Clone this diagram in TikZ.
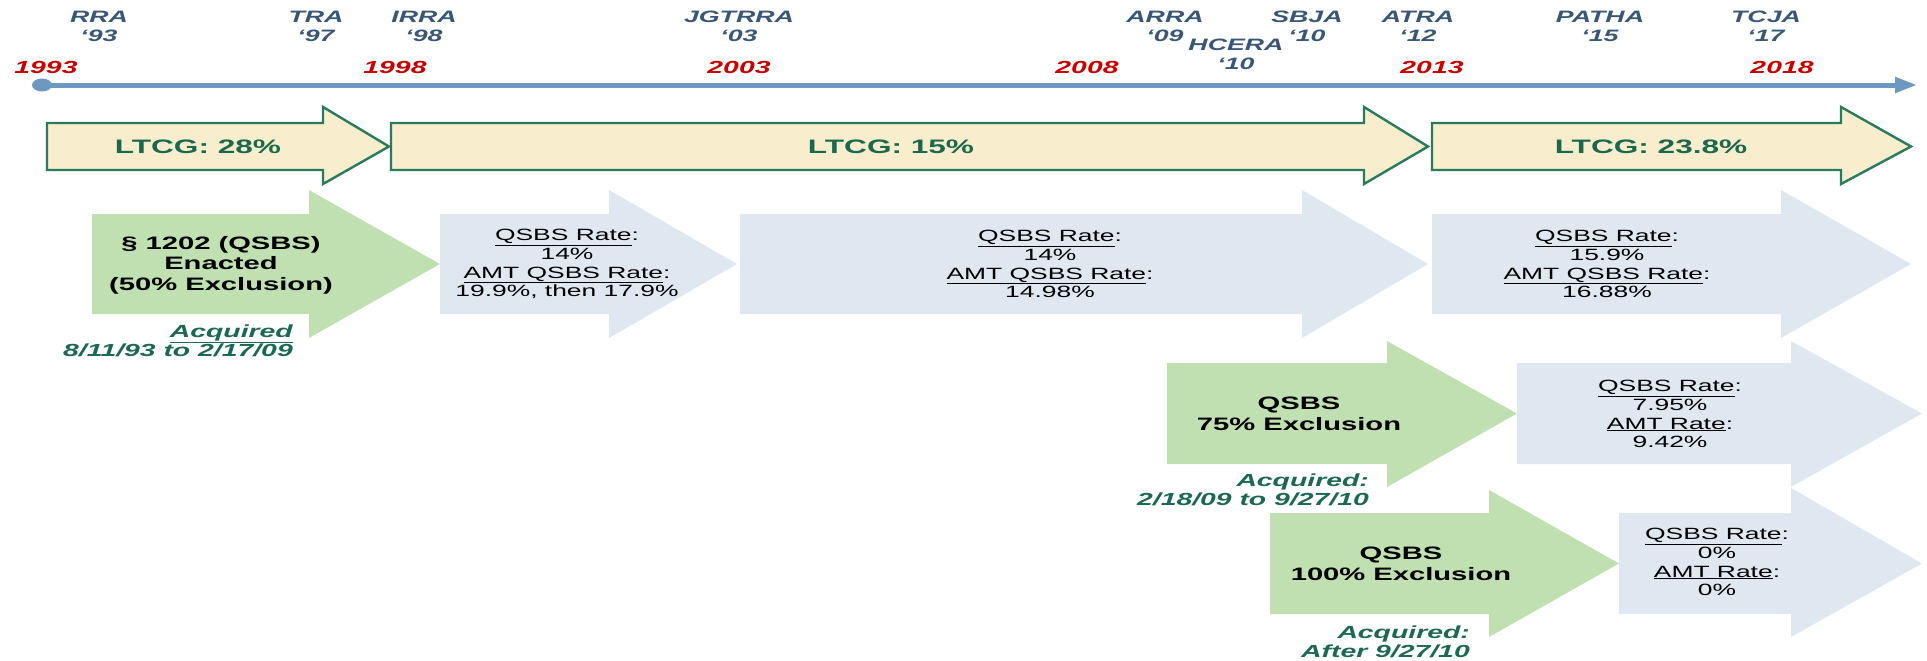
\documentclass[tikz,border=0pt]{standalone}
\usepackage{fontspec}
\setmainfont{Liberation Sans}[FakeStretch=1.62]
\usetikzlibrary{arrows.meta,shapes.geometric}
\definecolor{tlblue}{RGB}{108,152,194}
\definecolor{actcol}{RGB}{56,86,118}
\definecolor{yearred}{RGB}{200,0,0}
\definecolor{creamfill}{RGB}{248,238,206}
\definecolor{ltcgline}{RGB}{42,122,92}
\definecolor{ltcgtext}{RGB}{28,104,78}
\definecolor{greenfill}{RGB}{192,224,178}
\definecolor{bluefill}{RGB}{223,232,241}
\definecolor{acqcol}{RGB}{28,104,84}
\newcommand\blkarrow[8]{%
  \path[#1] (#2,#5) -- (#3,#5) -- (#3,#7) -- (#4,{(#5+#6)/2}) -- (#3,#8) -- (#3,#6) -- (#2,#6) -- cycle;}
\tikzset{
  act/.style={text=actcol, font=\fontsize{16.5}{19}\selectfont\bfseries\itshape, align=center, inner sep=0pt},
  yr/.style={text=yearred, font=\fontsize{17.5}{20}\selectfont\bfseries\itshape, inner sep=0pt},
  ltcgarrow/.style={fill=creamfill, draw=ltcgline, line width=2.4pt, line join=miter},
  greenarrow/.style={fill=greenfill},
  bluearrow/.style={fill=bluefill},
  ltcgtxt/.style={text=ltcgtext, font=\fontsize{19.5}{22}\selectfont\bfseries, inner sep=0pt},
  greentxt/.style={font=\fontsize{18}{20.5}\selectfont\bfseries, align=center, inner sep=0pt},
  bluetxt/.style={font=\fontsize{16.3}{18.8}\selectfont, align=center, inner sep=0pt},
  acqtxt/.style={text=acqcol, font=\fontsize{17.5}{19.5}\selectfont\bfseries\itshape, align=right, inner sep=0pt, anchor=east},
}
\begin{document}
\begin{tikzpicture}[x=1pt,y=-1pt]
\useasboundingbox (0,0) rectangle (1927,661);
% timeline
\node[ellipse, fill=tlblue, minimum width=20pt, minimum height=13pt, inner sep=0pt] (dot) at (42,85) {};
\coordinate (tend) at (1917,85);
\draw[tlblue, line width=5pt, -{Triangle[length=22pt,width=15pt]}] (dot.center) -- (tend);
% acts
\node[act] (rra) at (99,26) {RRA\\‘93};
\node[act] (tra) at (316,26) {TRA\\‘97};
\node[act] (irra) at (424,26) {IRRA\\‘98};
\node[act] (jgtrra) at (739,26) {JGTRRA\\‘03};
\node[act] (arra) at (1165,26) {ARRA\\‘09};
\node[act] (hcera) at (1236,54) {HCERA\\‘10};
\node[act] (sbja) at (1307,26) {SBJA\\‘10};
\node[act] (atra) at (1418,26) {ATRA\\‘12};
\node[act] (patha) at (1600,26) {PATHA\\‘15};
\node[act] (tcja) at (1766,26) {TCJA\\‘17};
% years
\node[yr] (y1993) at (46,67) {1993};
\node[yr] (y1998) at (395,67) {1998};
\node[yr] (y2003) at (739,67) {2003};
\node[yr] (y2008) at (1087,67) {2008};
\node[yr] (y2013) at (1432,67) {2013};
\node[yr] (y2018) at (1782,67) {2018};
% LTCG arrows
\blkarrow{ltcgarrow}{47}{323}{389}{123}{170}{107}{184}
\blkarrow{ltcgarrow}{391}{1364}{1428}{123}{170}{107}{184}
\blkarrow{ltcgarrow}{1432}{1841}{1911}{123}{170}{107}{184}
\node[ltcgtxt] (l28) at (198,147) {LTCG: 28\%};
\node[ltcgtxt] (l15) at (891,147) {LTCG: 15\%};
\node[ltcgtxt] (l238) at (1651,147) {LTCG: 23.8\%};
% row 2
\blkarrow{bluearrow}{440}{609}{737}{214}{314}{190}{338}
\blkarrow{bluearrow}{740}{1302}{1428}{214}{314}{190}{338}
\blkarrow{bluearrow}{1432}{1781}{1911}{214}{314}{190}{338}
\blkarrow{greenarrow}{92}{309}{440}{214}{314}{190}{338}
\node[greentxt] (g50) at (221,265) {§ 1202 (QSBS)\\Enacted\\(50\% Exclusion)};
\node[acqtxt] (a50) at (293,341) {\underline{Acquired}\\8/11/93 to 2/17/09};
\node[bluetxt] (b1) at (567,264) {\underline{QSBS Rate}:\\14\%\\\underline{AMT QSBS Rate}:\\19.9\%, then 17.9\%};
\node[bluetxt] (b2) at (1050,264) {\underline{QSBS Rate}:\\14\%\\\underline{AMT QSBS Rate}:\\14.98\%};
\node[bluetxt] (b3) at (1607,264) {\underline{QSBS Rate}:\\15.9\%\\\underline{AMT QSBS Rate}:\\16.88\%};
% row 3
\blkarrow{bluearrow}{1517}{1791}{1922}{363}{464}{341}{487}
\blkarrow{greenarrow}{1167}{1387}{1517}{363}{464}{341}{487}
\node[greentxt] (g75) at (1299,414) {QSBS\\75\% Exclusion};
\node[acqtxt] (a75) at (1369,490) {Acquired:\\2/18/09 to 9/27/10};
\node[bluetxt] (b4) at (1670,414) {\underline{QSBS Rate}:\\7.95\%\\\underline{AMT Rate}:\\9.42\%};
% row 4
\blkarrow{bluearrow}{1619}{1791}{1922}{513}{614}{488}{637}
\blkarrow{greenarrow}{1270}{1489}{1619}{513}{614}{490}{637}
\node[greentxt] (g100) at (1401,564) {QSBS\\100\% Exclusion};
\node[acqtxt] (a100) at (1470,642) {Acquired:\\After 9/27/10};
\node[bluetxt] (b5) at (1717,562) {\underline{QSBS Rate}:\\0\%\\\underline{AMT Rate}:\\0\%};
\end{tikzpicture}
\end{document}
